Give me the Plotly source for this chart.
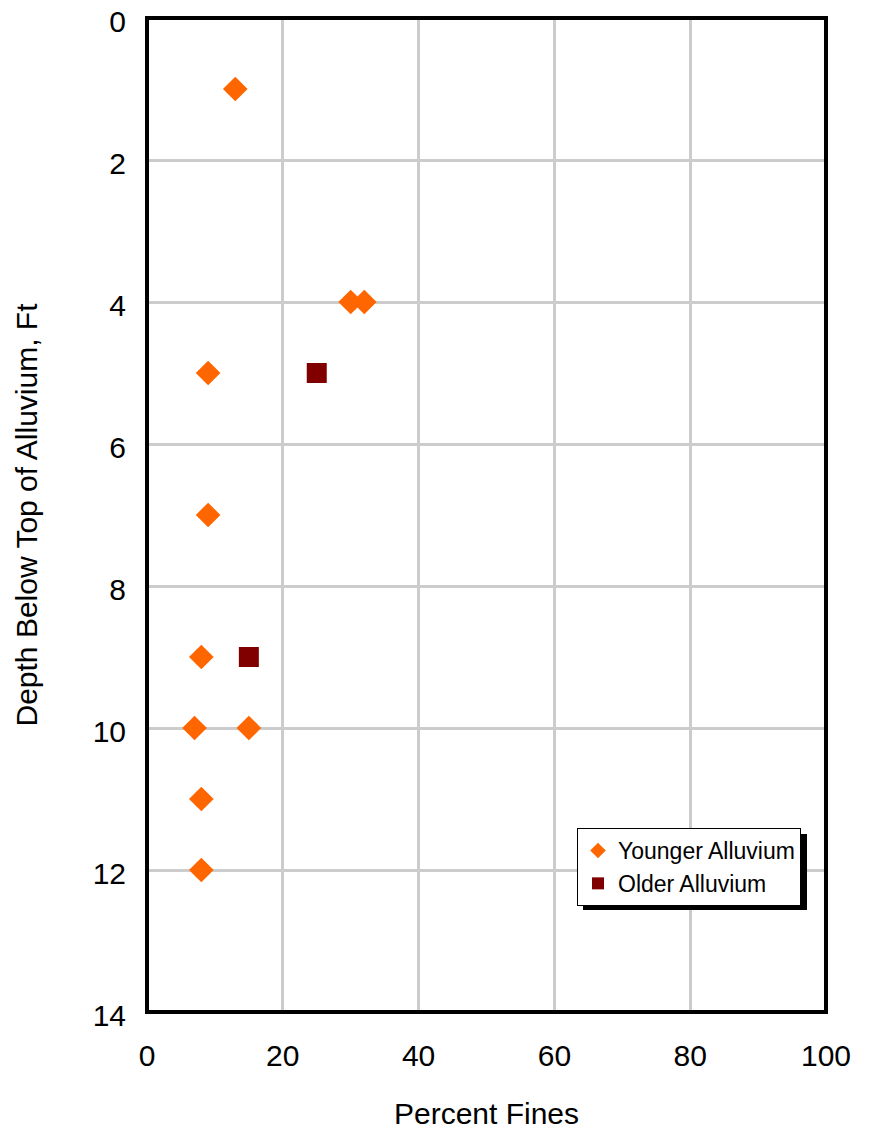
import plotly.graph_objects as go

young_fines = [13, 30, 32, 9, 9, 8, 7, 15, 8, 8]
young_depth = [1, 4, 4, 5, 7, 9, 10, 10, 11, 12]
old_fines = [25, 15]
old_depth = [5, 9]
x_ticks = [0, 20, 40, 60, 80, 100]
y_ticks = [0, 2, 4, 6, 8, 10, 12, 14]

fig = go.Figure()
fig.add_trace(go.Scatter(x=young_fines, y=young_depth, mode="markers", name="Younger Alluvium",
                         marker=dict(symbol="diamond", size=19, color="#ff6600", line=dict(width=0))))
fig.add_trace(go.Scatter(x=old_fines, y=old_depth, mode="markers", name="Older Alluvium",
                         marker=dict(symbol="square", size=20, color="#800000", line=dict(width=0))))

# page body has an 8px margin; plot area edges in page pixels
OFF = 8
L, R, T, B = 147, 826, 18, 1012
W, H = 873 - OFF, 1131 - OFF
pw, ph = R - L, B - T

def px(xp):
    return (xp - L) / pw

def py(yp):
    return (B - yp) / ph

shapes = []
shapes.append(dict(type="line", xref="x", yref="paper", x0=80, x1=80, y0=0, y1=1,
                   line=dict(color="#555555", width=1), layer="between"))
shapes.append(dict(type="line", xref="paper", yref="y", x0=0, x1=1, y0=12, y1=12,
                   line=dict(color="#555555", width=1), layer="between"))
shapes.append(dict(type="rect", xref="paper", yref="paper", x0=0, x1=1, y0=0, y1=1,
                   line=dict(color="black", width=4), layer="above"))
# legend shadow
shapes.append(dict(type="rect", xref="paper", yref="paper", x0=px(583), x1=px(807), y0=py(910), y1=py(834),
                   fillcolor="black", line=dict(width=0), layer="above"))

fig.update_layout(
    width=W, height=H,
    margin=dict(l=L - OFF, r=W - (R - OFF), t=T - OFF, b=H - (B - OFF)),
    paper_bgcolor="white", plot_bgcolor="white",
    font=dict(family="Liberation Sans, Arial, sans-serif", size=22, color="black"),
    showlegend=True,
    legend=dict(x=px(577), y=py(828), xanchor="left", yanchor="top",
                bgcolor="white", bordercolor="black", borderwidth=1,
                font=dict(size=23), itemsizing="constant", tracegroupgap=0),
    shapes=shapes,
    xaxis=dict(range=[0, 100], tickvals=x_ticks, showgrid=True, gridcolor="#cccccc", gridwidth=3,
               zeroline=False, showline=False, ticks="", ticklabelstandoff=23, automargin=False,
               tickfont=dict(size=30), ticklabeloverflow="allow"),
    yaxis=dict(range=[14, 0], tickvals=y_ticks, showgrid=True, gridcolor="#cccccc", gridwidth=3,
               zeroline=False, showline=False, ticks="", ticklabelstandoff=20, automargin=False,
               tickfont=dict(size=30), ticklabeloverflow="allow", ticklabelshift=-3),
)
fig.update_xaxes(title_text="Percent Fines", title_font_size=30, title_standoff=31)
fig.update_yaxes(title_text="Depth Below Top of Alluvium, Ft", title_font_size=30, title_standoff=46)

fig.write_html("out.html")
